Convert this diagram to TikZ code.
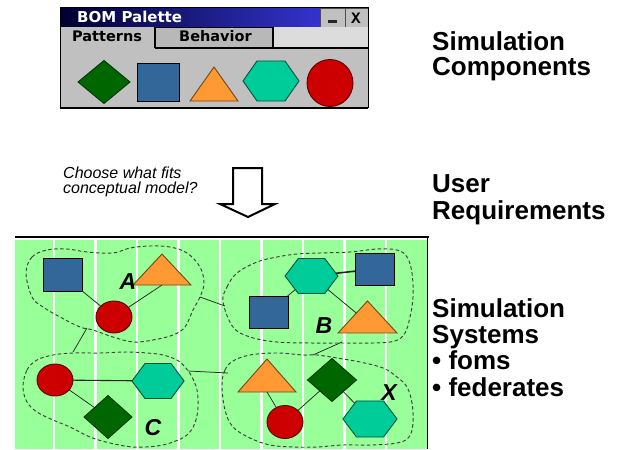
\documentclass[tikz,border=0pt]{standalone}
\usepackage{fontspec}
\setmainfont{Liberation Sans}
\newfontfamily\uifont{DejaVu Sans}
\newfontfamily\btnfont{Liberation Mono}
\usetikzlibrary{shapes.geometric}

\definecolor{bomblue}{RGB}{51,102,153}
\definecolor{bomorange}{RGB}{255,153,51}
\definecolor{bomteal}{RGB}{0,204,153}
\definecolor{bomred}{RGB}{204,0,0}
\definecolor{bomgreen}{RGB}{0,102,0}
\definecolor{field}{RGB}{153,255,153}
\definecolor{winface}{RGB}{192,192,192}
\definecolor{tabdark}{RGB}{184,184,184}
\definecolor{tablight}{RGB}{220,220,220}
\definecolor{titledark}{RGB}{0,0,48}
\definecolor{titleblue}{RGB}{51,51,204}

\begin{document}
\begin{tikzpicture}[x=1pt,y=-1pt,
  shp/.style={inner sep=0pt, outer sep=0pt, line width=0.9pt},
  sqr/.style={shp, rectangle, fill=bomblue, draw=black, minimum width=39pt, minimum height=33pt},
  tri/.style={shp, regular polygon, regular polygon sides=3, fill=bomorange, draw=bomorange!45!black},
  hexa/.style={shp, regular polygon, regular polygon sides=6, fill=bomteal, draw=bomteal!40!black},
  ball/.style={shp, ellipse, fill=bomred, draw=bomred!45!black, minimum width=36pt, minimum height=32pt},
  dia/.style={shp, diamond, fill=bomgreen, draw=bomgreen!55!black, minimum width=48pt, minimum height=43pt},
  link/.style={draw=black!85, line width=0.75pt},
  blob/.style={draw=black!75, line width=0.95pt, dash pattern=on 3.5pt off 2.5pt},
  lbl/.style={font=\fontsize{23}{23}\selectfont\bfseries\itshape, inner sep=0pt},
  sidetext/.style={font=\fontsize{26}{26}\selectfont\bfseries, anchor=base west, inner sep=0pt},
  hint/.style={font=\fontsize{16}{16}\selectfont\itshape, anchor=base west, inner sep=0pt},
  uitext/.style={font=\uifont\fontsize{14.5}{14.5}\selectfont\bfseries, anchor=base west, inner sep=0pt},
]
\useasboundingbox (0,0) rectangle (620,449);
\fill[white] (0,0) rectangle (620,449);

% ---------- palette window ----------
\fill[winface] (60,8) rectangle (368,108);
\shade[left color=titledark, right color=titleblue] (60,8) rectangle (320,27);
\draw[fill=winface, draw=black!70, line width=0.8pt] (320,8) rectangle (345,27);
\draw[fill=winface, draw=black!70, line width=0.8pt] (345,8) rectangle (368,27);
\fill[black!85] (328,20.5) rectangle (337,23);
\node[font=\btnfont\fontsize{16}{16}\selectfont\bfseries, inner sep=0pt] (closex) at (356,18) {X};
\node[uitext, font=\uifont\fontsize{15}{15}\selectfont\bfseries, white] (title) at (77,23) {BOM Palette};

\fill[tabdark] (155,27) rectangle (273,48);
\fill[tablight] (273,27) rectangle (368,48);
\draw[black, line width=1.5pt] (155,48) -- (155,27.5) -- (273,27.5) -- (273,48);
\draw[black, line width=1.5pt] (155,48) -- (368,48);
\node[uitext] (tabpat) at (72,42) {Patterns};
\node[uitext] (tabbeh) at (179,42) {Behavior};

\draw[black, line width=1pt] (60,8) rectangle (368,108);
\draw[black, line width=2.5pt] (60,108) -- (368,108);

\node[dia, minimum width=52pt, minimum height=43pt] (pdia) at (104,82) {};
\node[sqr, minimum width=42pt, minimum height=38pt] (psq) at (158,82) {};
\node[tri, minimum size=55.4pt, yscale=0.818] (ptri) at (214,89.7) {};
\node[hexa, minimum size=46.2pt, xscale=1.212] (phex) at (271,81) {};
\node[ball, minimum width=46pt, minimum height=47pt] (pball) at (330,83) {};

% ---------- choice arrow ----------
\node[hint] (ask1) at (63,178) {Choose what fits};
\node[hint] (ask2) at (63,193) {conceptual model?};
\draw[line width=2pt, fill=white, line join=miter]
  (233,168) -- (262,168) -- (262,204) -- (275,204) -- (248,217) -- (220,204) -- (233,204) -- cycle;

% ---------- simulation field ----------
\fill[white] (15,237) rectangle (428,449);
\fill[field] (15,240) rectangle (427,449);
\foreach \i in {0,...,8}
  \fill[white] ({52.8+41.5*\i},240) rectangle ({55.3+41.5*\i},449);
\draw[black, line width=2.5pt] (15,237) -- (428.5,237);
\draw[black, line width=1.5pt] (427.5,237) -- (427.5,449);

% federation outlines
\draw[blob] plot[smooth cycle, tension=0.6] coordinates {
  (26,273) (32,257) (47,250) (67,249) (87,252) (113,253) (130,248) (150,246)
  (170,247) (187,253) (200,267) (204,283) (200,297) (193,310) (185,327)
  (173,335) (153,340) (133,342) (113,337) (93,330) (80,327) (60,317) (43,307)
  (32,297)};
\draw[blob] plot[smooth cycle, tension=0.6] coordinates {
  (223,302) (227,287) (237,273) (257,262) (277,257) (297,254) (320,253)
  (350,252) (377,249) (397,250) (407,257) (412,273) (413,297) (410,317)
  (405,333) (395,341) (373,343) (343,343) (310,343) (277,342) (250,337)
  (233,327)};
\draw[blob] plot[smooth cycle, tension=0.6] coordinates {
  (23,387) (27,370) (37,360) (53,355) (73,353) (100,353) (127,352) (147,353)
  (163,355) (177,360) (185,367) (192,377) (197,390) (198,407) (195,423)
  (187,435) (173,442) (157,446) (133,447) (110,443) (90,437) (70,427)
  (53,420) (37,412) (27,402)};
\draw[blob] plot[smooth cycle, tension=0.6] coordinates {
  (222,385) (225,370) (233,361) (250,355) (277,353) (303,355) (317,355)
  (337,358) (360,362) (383,368) (397,377) (407,387) (412,403) (413,423)
  (409,437) (397,443) (370,445) (343,445) (317,447) (293,447) (270,445)
  (250,438) (233,427) (225,410)};

% components of federation A
\node[sqr] (sqa) at (62.5,275) {};
\node[tri, minimum size=67pt, yscale=0.617] (tria) at (162,274.7) {};
\node[ball] (balla) at (114,317) {};
% components of federation B
\node[hexa, minimum size=40.4pt, xscale=1.31] (hexb) at (311.5,276) {};
\node[sqr, minimum height=32pt] (sqbtop) at (374.5,269) {};
\node[sqr, minimum height=32pt] (sqblow) at (268.5,312) {};
\node[tri, minimum size=68.1pt, yscale=0.626] (trib) at (367.5,322.3) {};
% components of federation C
\node[ball] (ballc) at (55,380) {};
\node[hexa, minimum size=40.4pt, xscale=1.29] (hexc) at (158,381) {};
\node[dia] (diac) at (108,417) {};
% components of federation X
\node[tri, minimum size=67pt, yscale=0.657] (trix) at (267,381) {};
\node[dia, minimum width=49pt] (diax) at (332,380) {};
\node[ball, minimum height=33pt] (ballx) at (285,422) {};
\node[hexa, minimum size=41.6pt, xscale=1.3] (hexx) at (370,419) {};

% links inside federations
\draw[link] (sqa) -- (balla);
\draw[link] (tria.south) -- (balla);
\draw[link, line width=1.6pt] (hexb) -- (sqbtop);
\draw[link] (hexb) -- (sqblow);
\draw[link] (hexb) -- (trib);
\draw[link, line width=1.1pt] (ballc) -- (hexc);
\draw[link] (ballc) -- (diac);
\draw[link] (trix.south) -- (ballx);
\draw[link] (ballx) -- (diax);
\draw[link] (diax) -- (hexx);

% links between federations
\coordinate (ab1) at (200,297); \coordinate (ab2) at (225,306);
\coordinate (ac1) at (87,328);  \coordinate (ac2) at (73,352);
\coordinate (cx1) at (188,371); \coordinate (cx2) at (228,373);
\coordinate (bx1) at (342,342); \coordinate (bx2) at (313,355);
\draw[link] (ab1) -- (ab2);
\draw[link] (ac1) -- (ac2);
\draw[link] (cx1) -- (cx2);
\draw[link] (bx1) -- (bx2);

% federation names
\node[lbl] (namea) at (128,282) {A};
\node[lbl] (nameb) at (324,326) {B};
\node[lbl] (namec) at (153,428) {C};
\node[lbl] (namex) at (389,393) {X};

% ---------- side captions ----------
\node[sidetext] (cap1) at (432,51) {Simulation};
\node[sidetext] (cap2) at (432,76) {Components};
\node[sidetext] (cap3) at (432,192) {User};
\node[sidetext] (cap4) at (432,219) {Requirements};
\node[sidetext] (cap5) at (432,317) {Simulation};
\node[sidetext] (cap6) at (432,343) {Systems};
\node[sidetext] (cap7) at (432,369) {• foms};
\node[sidetext] (cap8) at (432,396) {• federates};
\end{tikzpicture}
\end{document}
